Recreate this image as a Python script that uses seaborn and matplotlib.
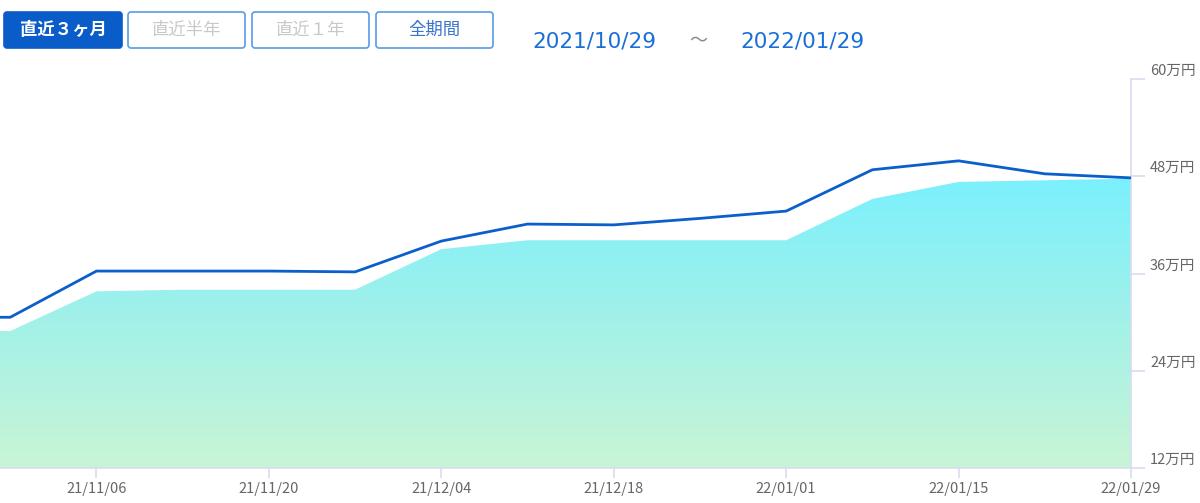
import numpy as np
import pandas as pd
import seaborn as sns
import matplotlib.pyplot as plt
import matplotlib.dates as mdates
import matplotlib.transforms as mtransforms
from matplotlib.patches import FancyBboxPatch, Polygon
from matplotlib.colors import LinearSegmentedColormap

# weekly values (万円)
dates = ["2021-10-23", "2021-10-30", "2021-11-06", "2021-11-13", "2021-11-20", "2021-11-27",
         "2021-12-04", "2021-12-11", "2021-12-18", "2021-12-25", "2022-01-01",
         "2022-01-08", "2022-01-15", "2022-01-22", "2022-01-29"]
valuation = [30.6, 30.6, 36.3, 36.3, 36.3, 36.2, 40.0, 42.1, 42.0, 42.8, 43.7, 48.8, 49.9, 48.3, 47.8]
invested = [28.9, 28.9, 33.8, 34.0, 34.0, 34.0, 39.0, 40.1, 40.1, 40.1, 40.1, 45.2, 47.3, 47.5, 47.7]
y_ticks = [12, 24, 36, 48, 60]
x_ticks = ["2021-11-06", "2021-11-20", "2021-12-04", "2021-12-18", "2022-01-01", "2022-01-15", "2022-01-29"]
buttons = ["直近３ヶ月", "直近半年", "直近１年", "全期間"]
range_start, range_end = "2021/10/29", "2022/01/29"

df = pd.DataFrame({"date": pd.to_datetime(dates), "valuation": valuation, "invested": invested})

sns.set_theme(style="white")
plt.rcParams["font.family"] = ["Noto Sans CJK JP", "DejaVu Sans"]

W, H = 1200, 503
fig = plt.figure(figsize=(W / 100, H / 100), dpi=100)
px = mtransforms.Affine2D().scale(1 / W, 1 / H) + fig.transFigure

ax = fig.add_axes([0, 1 - 468 / H, 1131 / W, (468 - 79) / H])
ax.set_facecolor("none")

# gradient area
xn = mdates.date2num(df["date"])
poly_x = np.concatenate([xn, xn[::-1]])
poly_y = np.concatenate([df["invested"], np.full(len(xn), 12)])
poly = Polygon(np.column_stack([poly_x, poly_y]), closed=True, facecolor="none", edgecolor="none")
ax.add_patch(poly)
cmap = LinearSegmentedColormap.from_list("g", ["#c9f5d6", "#a3f1e8", "#7bf0fd"])
grad = np.linspace(0, 1, 256).reshape(-1, 1)
top = max(invested)
im = ax.imshow(grad, cmap=cmap, origin="lower", aspect="auto",
               extent=[xn[0], xn[-1], 12, top], zorder=1)
im.set_clip_path(poly)

sns.lineplot(data=df, x="date", y="valuation", ax=ax, color="#0b5fcb", linewidth=2.0, zorder=3)

ax.set_xlim(mdates.date2num(pd.Timestamp("2021-10-29 04:00")), mdates.date2num(pd.Timestamp("2022-01-29")))
ax.set_ylim(12, 60)
ax.set_xlabel("")
ax.set_ylabel("")

for s in ["top", "left"]:
    ax.spines[s].set_visible(False)
for s in ["right", "bottom"]:
    ax.spines[s].set_color("#d8dcef")
    ax.spines[s].set_linewidth(1.2)

ax.set_xticks(mdates.date2num(pd.to_datetime(x_ticks)))
ax.xaxis.set_major_formatter(mdates.DateFormatter("%y/%m/%d"))
ax.tick_params(axis="x", length=7, width=1.2, color="#d8dcef", labelcolor="#666666",
               labelsize=10.5, pad=3, bottom=True)
ax.yaxis.tick_right()
ax.set_yticks(y_ticks)
ax.set_yticklabels([])
ax.tick_params(axis="y", length=10, width=1.2, color="#d8dcef", right=True, left=False)
ylab_tf = (mtransforms.blended_transform_factory(ax.transAxes, ax.transData)
           + mtransforms.ScaledTranslation(19 / 100, 8 / 100, fig.dpi_scale_trans))
for v in y_ticks:
    ax.text(1.0, v, f"{v}万円", transform=ylab_tf, ha="left", va="center",
            fontsize=10.5, color="#666666", clip_on=False)

# period buttons
boxes = [(4, 122), (128, 245), (252, 369), (376, 493)]
for i, (label, (x0, x1)) in enumerate(zip(buttons, boxes)):
    active = i == 0
    fc = "#0a5dc9" if active else "white"
    ec = "#0a5dc9" if active else "#5b9be6"
    tc = "white" if active else ("#3a74cc" if i == 3 else "#c8c8c8")
    fig.patches.append(FancyBboxPatch((x0, H - 48), x1 - x0, 36,
                                      boxstyle="round,pad=0,rounding_size=3",
                                      transform=px, facecolor=fc, edgecolor=ec, linewidth=1.2))
    fig.text((x0 + x1) / 2, H - 30, label, transform=px, ha="center", va="center",
             fontsize=12.5, color=tc, fontweight="bold" if active else "normal")

fig.text(532, H - 41, range_start, transform=px, ha="left", va="center", fontsize=15.5,
         color="#1a6fd6", family="DejaVu Sans")
fig.text(698, H - 41, "～", transform=px, ha="center", va="center", fontsize=13, color="#888888")
fig.text(740, H - 41, range_end, transform=px, ha="left", va="center", fontsize=15.5,
         color="#1a6fd6", family="DejaVu Sans")

fig.savefig("out.png", dpi=100)
